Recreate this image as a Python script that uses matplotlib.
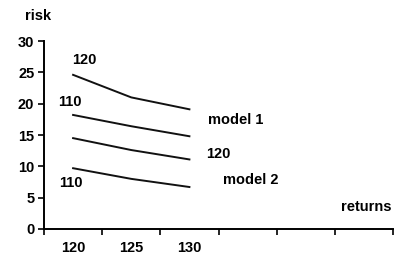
import numpy as np
import matplotlib.pyplot as plt

plt.rcParams['font.family'] = ['Liberation Sans', 'DejaVu Sans']
plt.rcParams['font.weight'] = 'bold'

# data
returns = ['120', '125', '130']
n_slots = 6
model1_120 = [24.6, 21.0, 19.1]
model1_110 = [18.2, 16.4, 14.8]
model2_120 = [14.5, 12.6, 11.1]
model2_110 = [9.7, 8.0, 6.7]
yticks = [0, 5, 10, 15, 20, 25, 30]

W, H = 419, 275
fig = plt.figure(figsize=(W / 100, H / 100), dpi=100)
ax = fig.add_axes([44 / W, 1 - 229 / H, (393 - 44) / W, (229 - 41) / H])

xpos = np.arange(len(returns)) + 0.5
for s in [model1_120, model1_110, model2_120, model2_110]:
    ax.plot(xpos, s, color='#111111', linewidth=1.4, clip_on=False)

fs = 10.5
ax.set_xlim(0, n_slots)
ax.set_ylim(0, 30)
ax.set_yticks(yticks)
ax.set_xticks(np.arange(n_slots + 1))
ax.set_xticklabels([])
ax.set_xticks(xpos, minor=True)
ax.set_xticklabels(returns, minor=True)
ax.tick_params(axis='x', which='minor', length=0, pad=9, labelsize=fs)
ax.tick_params(axis='x', which='major', length=4, width=1.2, direction='out')
ax.tick_params(axis='y', length=4, width=1.2, direction='out', labelsize=fs, pad=3)
for lab in ax.get_yticklabels() + ax.get_xticklabels(minor=True):
    lab.set_fontweight('bold')

for sp in ['top', 'right']:
    ax.spines[sp].set_visible(False)
for sp in ['left', 'bottom']:
    ax.spines[sp].set_linewidth(1.4)

fig.text(25 / W, 1 - 16 / H, 'risk', fontsize=fs, fontweight='bold', va='center', ha='left')
fig.text(366 / W, 1 - 207 / H, 'returns', fontsize=fs, fontweight='bold', va='center', ha='center')
fig.text(84 / W, 1 - 60 / H, '120', fontsize=fs, fontweight='bold', va='center', ha='center')
fig.text(70 / W, 1 - 102 / H, '110', fontsize=fs, fontweight='bold', va='center', ha='center')
fig.text(236 / W, 1 - 120 / H, 'model 1', fontsize=fs, fontweight='bold', va='center', ha='center')
fig.text(218 / W, 1 - 154 / H, '120', fontsize=fs, fontweight='bold', va='center', ha='center')
fig.text(251 / W, 1 - 180 / H, 'model 2', fontsize=fs, fontweight='bold', va='center', ha='center')
fig.text(71 / W, 1 - 183 / H, '110', fontsize=fs, fontweight='bold', va='center', ha='center')

fig.savefig('out.png', dpi=100)
